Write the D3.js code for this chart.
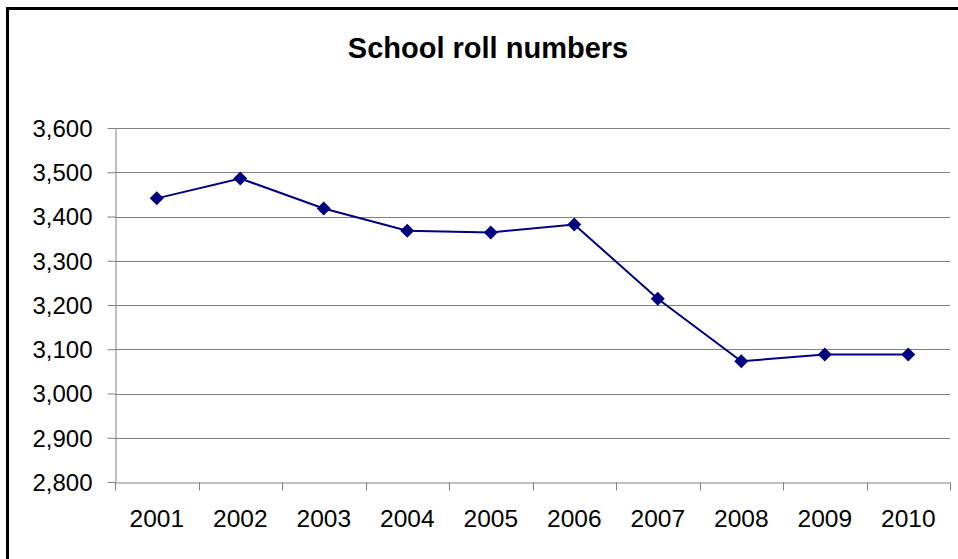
<!DOCTYPE html>
<html><head><meta charset="utf-8">
<script src="https://cdn.jsdelivr.net/npm/d3@7"></script>
<style>body{margin:0;background:#fff}svg{display:block}</style>
</head><body>
<script>
const years = ["2001","2002","2003","2004","2005","2006","2007","2008","2009","2010"];
const rollNumbers = [3441, 3486, 3418, 3368, 3364, 3382, 3214, 3073, 3088, 3088];
const yTicks = [2800, 2900, 3000, 3100, 3200, 3300, 3400, 3500, 3600];

const W = 958, H = 559;
const m = {left: 115, right: 8, top: 128, bottom: 77};
const FONT = "Arial, 'Liberation Sans', sans-serif";
const svg = d3.select("body").append("svg").attr("width", W).attr("height", H);
svg.append("rect").attr("x", 7.5).attr("y", 8.5).attr("width", 960).attr("height", 560)
  .attr("fill", "#fff").attr("stroke", "#000").attr("stroke-width", 3);

const x = d3.scaleBand().domain(years).range([m.left, W - m.right]);
const y = d3.scaleLinear().domain([2800, 3600]).range([H - m.bottom, m.top]);

svg.append("text").attr("x", 488).attr("y", 58).attr("text-anchor", "middle")
  .attr("font-family", FONT).attr("font-weight", "bold")
  .attr("font-size", 29).text("School roll numbers");

const g = svg.append("g");
g.selectAll("line.grid").data(yTicks.filter(d => d > 2800)).join("line")
  .attr("x1", m.left).attr("x2", W - m.right)
  .attr("y1", d => Math.round(y(d)) + 0.5).attr("y2", d => Math.round(y(d)) + 0.5)
  .attr("stroke", "#808080").attr("stroke-width", 1);

const yAxis = svg.append("g").attr("transform", `translate(${m.left + 0.5},0)`)
  .call(d3.axisLeft(y).tickValues(yTicks).tickFormat(d3.format(",")).tickSize(8).tickSizeOuter(0));
yAxis.select(".domain").attr("stroke", "#808080");
yAxis.selectAll(".tick line").attr("stroke", "#808080");
yAxis.selectAll(".tick text").attr("font-family", FONT)
  .attr("font-size", 24).attr("fill", "#000").attr("x", -23).attr("dy", "0.35em");

const xAxis = svg.append("g").attr("transform", `translate(0,${Math.round(y(2800)) + 0.5})`)
  .call(d3.axisBottom(x).tickSize(0).tickSizeOuter(0));
xAxis.select(".domain").attr("stroke", "#808080");
xAxis.selectAll(".tick text").attr("font-family", FONT)
  .attr("font-size", 24.5).attr("fill", "#000").attr("y", 27).attr("dy", "0.71em");
const bounds = years.map(d => x(d)).concat([x(years[years.length-1]) + x.bandwidth()]);
xAxis.selectAll("line.bt").data(bounds).join("line").attr("class", "bt")
  .attr("x1", d => Math.round(d) + 0.5).attr("x2", d => Math.round(d) + 0.5)
  .attr("y1", 0).attr("y2", 8).attr("stroke", "#808080");

const cx = d => x(d) + x.bandwidth() / 2;
const line = d3.line().x((d, i) => cx(years[i])).y(d => y(d));
svg.append("path").datum(rollNumbers).attr("d", line).attr("fill", "none")
  .attr("stroke", "#000080").attr("stroke-width", 2);
svg.selectAll("path.pt").data(rollNumbers).join("path").attr("class", "pt")
  .attr("transform", (d, i) => `translate(${cx(years[i])},${y(d)})`)
  .attr("d", "M0,-7L7,0L0,7L-7,0Z").attr("fill", "#000080");
</script>
</body></html>
